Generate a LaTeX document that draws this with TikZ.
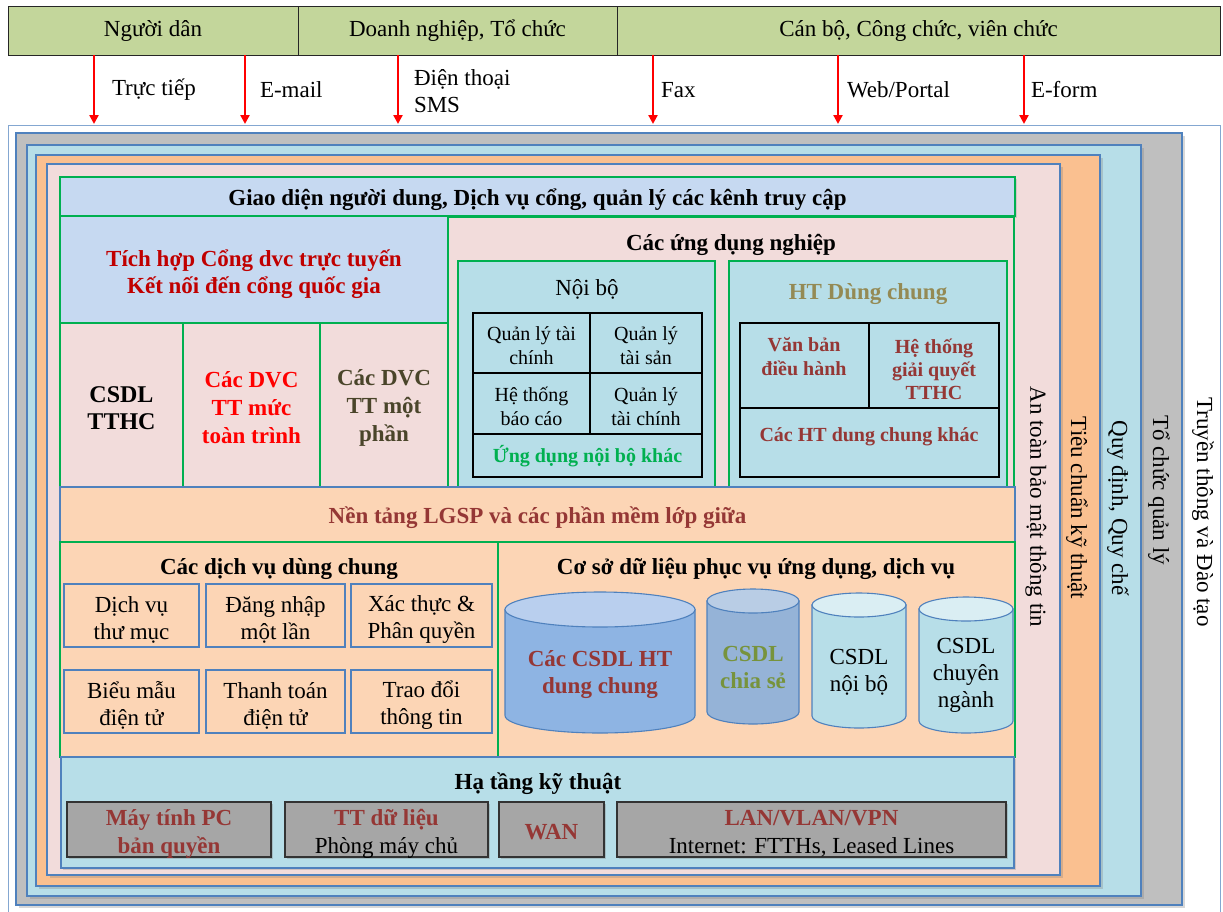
\documentclass[tikz,border=0pt]{standalone}
\usepackage{fontspec}
\setmainfont{Liberation Serif}
\usetikzlibrary{arrows.meta,shadows}

\definecolor{barGreen}{HTML}{C3D69B}
\definecolor{grayF}{HTML}{BFBFBF}
\definecolor{lblue}{HTML}{B7DEE8}
\definecolor{orangeF}{HTML}{FAC090}
\definecolor{pinkF}{HTML}{F2DCDB}
\definecolor{hdrBlue}{HTML}{C6D9F1}
\definecolor{peach}{HTML}{FCD5B5}
\definecolor{grayBox}{HTML}{A6A6A6}
\definecolor{frameBlue}{HTML}{4F81BD}
\definecolor{boxGreen}{HTML}{00B050}
\definecolor{crimson}{HTML}{C00000}
\definecolor{darkRed}{HTML}{953735}
\definecolor{oliveDark}{HTML}{4A452A}
\definecolor{oliveTan}{HTML}{948A54}
\definecolor{oliveGreen}{HTML}{77933C}
\definecolor{cylBlue}{HTML}{8EB4E3}
\definecolor{cylBlueTop}{HTML}{B9CFEE}
\definecolor{cylSteel}{HTML}{95B3D7}
\definecolor{cylSteelTop}{HTML}{B9CDE5}
\definecolor{cylPaleTop}{HTML}{DAEEF3}

\newcommand\fsz[2]{\fontsize{#1}{#2}\selectfont}
% rectangle node given by its corners: [style]{name}{x1}{y1}{x2}{y2}
\newcommand\rbox[6][]{%
  \node[#1, minimum width={#5-#3}, minimum height={#6-#4}] (#2)
    at ({(#3+#5)/2},{(#4+#6)/2}) {};}
% text set in the middle of a box, a little below its centre: [style]{box}{text}
\newcommand\rtext[3][]{%
  \node[align=center,#1] (#2t) at ([yshift=-3pt]#2.center) {#3};}
% database cylinder body and lid: {x1}{x2}{ytop}{ybottom}{y radius}{body}{lid}
\newcommand\dbcyl[7]{%
  \pgfmathsetmacro\cylcx{(#1+#2)/2}%
  \pgfmathsetmacro\cylrx{(#2-#1)/2}%
  \pgfmathsetmacro\cylyt{#3+#5}%
  \pgfmathsetmacro\cylyb{#4-#5}%
  \filldraw[dbline,fill=#6] (#1,\cylyt) -- (#1,\cylyb)
    arc[start angle=180,end angle=360,x radius=\cylrx pt,y radius=#5pt]
    -- (#2,\cylyt) -- cycle;
  \filldraw[dbline,fill=#7] (\cylcx,\cylyt) ellipse[x radius=\cylrx pt,y radius=#5pt];}

\begin{document}
\begin{tikzpicture}[x=1pt,y=-1pt,inner sep=0pt,outer sep=0pt,
  font=\fsz{23}{27},
  bar/.style={draw=black!85,line width=1pt,fill=barGreen},
  chan/.style={draw=red,line width=2.4pt,-{Triangle[width=9pt,length=9pt]}},
  chanlabel/.style={anchor=west,align=left},
  frame/.style={draw=frameBlue,line width=1.3pt,
    drop shadow={shadow xshift=2.5pt,shadow yshift=-2.5pt,opacity=.3}},
  gbox/.style={draw=boxGreen,line width=1.6pt},
  bframe/.style={draw=frameBlue,line width=1.3pt},
  cell/.style={draw=black,line width=1.8pt,fill=lblue},
  celltext/.style={font=\fsz{20}{24}},
  sbox/.style={draw=frameBlue,line width=1.2pt,fill=peach},
  gbtn/.style={draw=black!80,line width=1.2pt,fill=grayBox,
    drop shadow={shadow xshift=1.5pt,shadow yshift=-1.5pt,opacity=.35}},
  dbline/.style={draw=frameBlue,line width=1.1pt},
  title/.style={font=\fsz{23}{27}\bfseries},
  vlabel/.style={rotate=-90}]

\useasboundingbox (0,0) rectangle (1223,911);

% user groups
\rbox[bar]{grpA}{8}{6}{298}{55}
\rbox[bar]{grpB}{298}{6}{617}{55}
\rbox[bar]{grpC}{617}{6}{1220}{55}
\node (grpAt) at (grpA.center) {Người dân};
\node (grpBt) at (grpB.center) {Doanh nghiệp, Tổ chức};
\node (grpCt) at (grpC.center) {Cán bộ, Công chức, viên chức};

% outer white frame
\rbox[draw=frameBlue!70,line width=0.8pt,fill=white]{wf}{8}{125}{1220}{912}

% access channels
\foreach \i/\x in {1/94,2/245,3/398,4/653,5/838,6/1024}{
  \coordinate (cs\i) at (\x,55);
  \coordinate (ce\i) at (\x,124);
  \draw[chan] (cs\i) -- (ce\i);}
\node[chanlabel] (lab1) at (112,90) {Trực tiếp};
\node[chanlabel] (lab2) at (260,90) {E-mail};
\node[chanlabel] (lab3) at (414,91) {Điện thoại\\SMS};
\node[chanlabel] (lab4) at (661,90) {Fax};
\node[chanlabel] (lab5) at (847,90) {Web/Portal};
\node[chanlabel] (lab6) at (1031,90) {E-form};

% nested frames
\rbox[frame,fill=grayF]{f1}{16}{133}{1182}{905}
\rbox[frame,fill=lblue]{f2}{27}{145}{1141}{896}
\rbox[frame,fill=orangeF]{f3}{36}{155}{1100}{886}
\rbox[frame,fill=pinkF]{f4}{47}{164}{1060}{875}

\node[vlabel] (v1) at (1036,507) {An toàn bảo mật thông tin};
\node[vlabel] (v2) at (1077,508) {Tiêu chuẩn kỹ thuật};
\node[vlabel] (v3) at (1118,508) {Quy định, Quy chế};
\node[vlabel] (v4) at (1159,490) {Tổ chức quản lý};
\node[vlabel] (v5) at (1203,512) {Truyền thông và Đào tạo};

% portal layer
\rbox[gbox,fill=hdrBlue,drop shadow={shadow xshift=2pt,shadow yshift=-2pt,opacity=.25}]{gd}{60}{177}{1015}{216}
\rtext[title]{gd}{Giao diện người dung, Dịch vụ cổng, quản lý các kênh truy cập}
\rbox[gbox,fill=hdrBlue]{th}{60}{216}{448}{323}
\node[title,text=crimson,align=center] (tht) at ([yshift=-5pt]th.center) {Tích hợp Cổng dvc trực tuyến\\Kết nối đến cổng quốc gia};
\rbox[gbox,fill=pinkF]{c1}{60}{323}{183}{487}
\rtext[font=\fsz{24}{27}\bfseries]{c1}{CSDL\\TTHC}
\rbox[gbox,fill=pinkF]{c2}{183}{323}{320}{487}
\rtext[font=\fsz{23}{28}\bfseries,text=red]{c2}{Các DVC\\TT mức\\toàn trình}
\rbox[gbox,fill=pinkF]{c3}{320}{323}{448}{487}
\rtext[font=\fsz{23}{28}\bfseries,text=oliveDark]{c3}{Các DVC\\TT một\\phần}

% business applications
\rbox[gbox,fill=pinkF]{ud}{448}{217}{1014}{487}
\node[title] (udT) at (731,245) {Các ứng dụng nghiệp};

\rbox[gbox,fill=lblue]{nb}{458}{261}{715}{487}
\node (nbT) at (587,289) {Nội bộ};
\rbox[cell]{q1}{473}{313}{590}{373}
\rbox[cell]{q2}{590}{313}{702}{373}
\rbox[cell]{q3}{473}{373}{590}{434}
\rbox[cell]{q4}{590}{373}{702}{434}
\rbox[cell]{q5}{473}{434}{702}{477}
\rtext[celltext]{q1}{Quản lý tài\\chính}
\rtext[celltext]{q2}{Quản lý\\tài sản}
\rtext[celltext]{q3}{Hệ thống\\báo cáo}
\rtext[celltext]{q4}{Quản lý\\tài chính}
\node[font=\fsz{20}{24}\bfseries,text=boxGreen] (q5t) at ([yshift=-1pt]q5.center) {Ứng dụng nội bộ khác};

\rbox[gbox,fill=lblue]{ht}{729}{261}{1007}{487}
\node[title,text=oliveTan] (htT) at (868,294) {HT Dùng chung};
\rbox[cell]{h1}{740}{323}{869}{408}
\rbox[cell]{h2}{869}{323}{999}{408}
\rbox[cell]{h3}{740}{408}{999}{477}
\node[font=\fsz{20}{24}\bfseries,text=darkRed,align=center] (h1t) at (804,357) {Văn bản\\điều hành};
\node[font=\fsz{20}{23}\bfseries,text=darkRed,align=center] (h2t) at (934,369) {Hệ thống\\giải quyết\\TTHC};
\node[font=\fsz{20}{24}\bfseries,text=darkRed] (h3t) at (869,437) {Các HT dung chung khác};

% middleware
\rbox[bframe,fill=peach]{lg}{60}{487}{1015}{542}
\rtext[title,text=darkRed]{lg}{Nền tảng LGSP và các phần mềm lớp giữa}

% shared services
\rbox[gbox,fill=peach]{dv}{60}{542}{498}{757}
\node[title] (dvT) at (279,569) {Các dịch vụ dùng chung};
\rbox[sbox]{s1}{64}{584}{199}{647}
\rbox[sbox]{s2}{206}{584}{345}{647}
\rbox[sbox]{s3}{351}{584}{492}{647}
\rbox[sbox]{s4}{64}{670}{199}{733}
\rbox[sbox]{s5}{206}{670}{345}{733}
\rbox[sbox]{s6}{351}{670}{492}{733}
\rtext[yshift=-1pt]{s1}{Dịch vụ\\thư mục}
\rtext[yshift=-1pt]{s2}{Đăng nhập\\một lần}
\rtext[yshift=-1pt]{s3}{Xác thực \&\\Phân quyền}
\rtext[yshift=-1pt]{s4}{Biểu mẫu\\điện tử}
\rtext[yshift=-1pt]{s5}{Thanh toán\\điện tử}
\rtext[yshift=-1pt]{s6}{Trao đổi\\thông tin}

% databases
\rbox[gbox,fill=peach]{cs}{498}{542}{1015}{757}
\node[title] (csT) at (756,569) {Cơ sở dữ liệu phục vụ ứng dụng, dịch vụ};
\dbcyl{505}{695}{592}{733}{17.5}{cylBlue}{cylBlueTop}
\dbcyl{707}{799}{589}{724}{12}{cylSteel}{cylSteelTop}
\dbcyl{812}{906}{593}{728}{12}{lblue}{cylPaleTop}
\dbcyl{919}{1013}{597}{733}{12}{lblue}{cylPaleTop}
\node[title,text=darkRed,align=center] (db1) at (600,675) {Các CSDL HT\\dung chung};
\node[title,text=oliveGreen,align=center] (db2) at (753,667) {CSDL\\chia sẻ};
\node[align=center] (db3) at (859,672) {CSDL\\nội bộ};
\node[align=center] (db4) at (966,675) {CSDL\\chuyên\\ngành};

% infrastructure
\rbox[bframe,fill=lblue,drop shadow={shadow xshift=2pt,shadow yshift=-2pt,opacity=.3}]{hz}{61}{757}{1014}{868}
\node[title] (hzT) at (538,784) {Hạ tầng kỹ thuật};
\rbox[gbtn]{g1}{67}{802}{271}{857}
\rbox[gbtn]{g2}{285}{802}{488}{857}
\rbox[gbtn]{g3}{499}{802}{604}{857}
\rbox[gbtn]{g4}{617}{802}{1006}{857}
\rtext[font=\fsz{23}{28}\bfseries,text=darkRed,yshift=-1pt]{g1}{Máy tính PC\\bản quyền}
\rtext[font=\fsz{23}{28},yshift=-1pt]{g2}{\textbf{\color{darkRed}TT dữ liệu}\\Phòng máy chủ}
\rtext[font=\fsz{23}{28}\bfseries,text=darkRed]{g3}{WAN}
\rtext[font=\fsz{23}{28},yshift=-1pt]{g4}{\textbf{\color{darkRed}LAN/VLAN/VPN}\\Internet: FTTHs, Leased Lines}

\end{tikzpicture}
\end{document}
